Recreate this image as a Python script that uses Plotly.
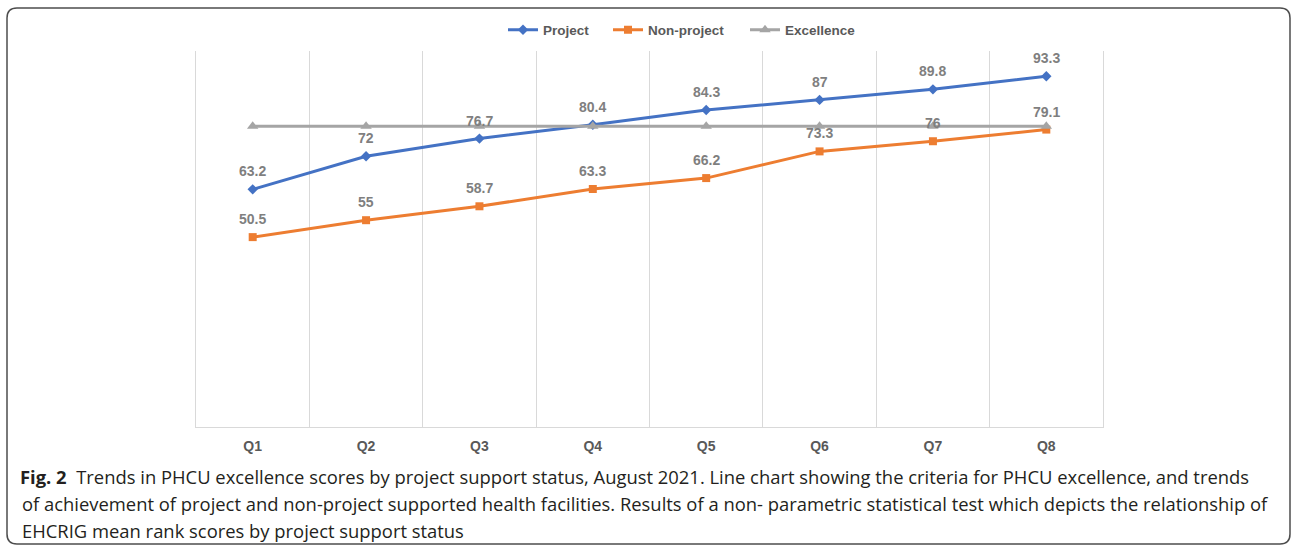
import plotly.graph_objects as go

categories = ["Q1", "Q2", "Q3", "Q4", "Q5", "Q6", "Q7", "Q8"]
project = [63.2, 72, 76.7, 80.4, 84.3, 87, 89.8, 93.3]
non_project = [50.5, 55, 58.7, 63.3, 66.2, 73.3, 76, 79.1]
excellence = [80, 80, 80, 80, 80, 80, 80, 80]

caption_lines = [
    "<b>Fig. 2</b>\u00a0\u00a0Trends in PHCU excellence scores by project support status, August 2021. Line chart showing the criteria for PHCU excellence, and trends",
    "of achievement of project and non-project supported health facilities. Results of a non- parametric statistical test which depicts the relationship of",
    "EHCRIG mean rank scores by project support status",
]

W, H = 1292, 548
L, R, T, B = 196, 1103, 51, 427


def px(x):
    return (x - L) / (R - L)


def py(y):
    return (B - y) / (B - T)


FONT = "Liberation Sans"
fig = go.Figure()
fig.add_trace(go.Scatter(x=categories, y=project, name="Project", mode="lines+markers",
                         line=dict(color="#4472C4", width=3), legendwidth=60,
                         marker=dict(symbol="diamond", size=8, color="#4472C4")))
fig.add_trace(go.Scatter(x=categories, y=non_project, name="Non-project", mode="lines+markers",
                         line=dict(color="#ED7D31", width=3), legendwidth=92,
                         marker=dict(symbol="square", size=8, color="#ED7D31")))
fig.add_trace(go.Scatter(x=categories, y=excellence, name="Excellence", mode="lines+markers",
                         line=dict(color="#A5A5A5", width=3), legendwidth=72,
                         marker=dict(symbol="triangle-up", size=10, color="#A5A5A5")))

annotations = []
for series in (project, non_project):
    for c, v in zip(categories, series):
        annotations.append(dict(x=c, y=v, text=f"{v:g}", showarrow=False, yshift=18,
                                font=dict(family=FONT, size=14, color="#7F7F7F", weight="bold")))

cap_y = [476, 503, 530]
cap_x = [18, 20, 20]
for t, yy, xx in zip(caption_lines, cap_y, cap_x):
    annotations.append(dict(xref="paper", yref="paper", x=px(xx), y=py(yy), xanchor="left",
                            yanchor="middle", showarrow=False, text=t, align="left",
                            font=dict(family="Open Sans", size=18.4, color="#231F20")))

# rounded frame
x0, x1, y0, y1, r = 7, 1290, 8, 544, 10
path = (f"M {px(x0 + r)},{py(y0)} L {px(x1 - r)},{py(y0)} Q {px(x1)},{py(y0)} {px(x1)},{py(y0 + r)} "
        f"L {px(x1)},{py(y1 - r)} Q {px(x1)},{py(y1)} {px(x1 - r)},{py(y1)} "
        f"L {px(x0 + r)},{py(y1)} Q {px(x0)},{py(y1)} {px(x0)},{py(y1 - r)} "
        f"L {px(x0)},{py(y0 + r)} Q {px(x0)},{py(y0)} {px(x0 + r)},{py(y0)} Z")

fig.update_layout(
    width=W, height=H,
    margin=dict(l=L, r=W - R, t=T, b=H - B, pad=0),
    paper_bgcolor="white", plot_bgcolor="white",
    font=dict(family=FONT, size=14, color="#595959"),
    showlegend=True,
    legend=dict(orientation="h", x=px(503), xanchor="left", y=py(30), yanchor="middle",
                font=dict(family=FONT, size=13.5, color="#595959", weight="bold"),
                itemwidth=30, bgcolor="rgba(0,0,0,0)"),
    xaxis=dict(type="category", tickson="boundaries", showgrid=True, gridcolor="#D9D9D9",
               gridwidth=1, showline=True, linecolor="#D9D9D9", linewidth=1, ticks="",
               range=[-0.5, 7.5], ticklabelstandoff=6,
               tickfont=dict(family=FONT, size=14, color="#595959", weight="bold"),
               zeroline=False, fixedrange=True),
    yaxis=dict(range=[0, 100], showgrid=False, zeroline=False, showticklabels=False,
               ticks="", showline=True, mirror=True, linecolor="#D9D9D9", linewidth=1),
    annotations=annotations,
    shapes=[dict(type="path", xref="paper", yref="paper", path=path,
                 line=dict(color="#4D4D4D", width=1.5), layer="above")],
)

fig.write_html(
    "out.html",
    config={"displayModeBar": False},
    post_script="document.documentElement.style.margin='0';document.body.style.margin='0';"
                "document.body.style.overflow='hidden';",
)
